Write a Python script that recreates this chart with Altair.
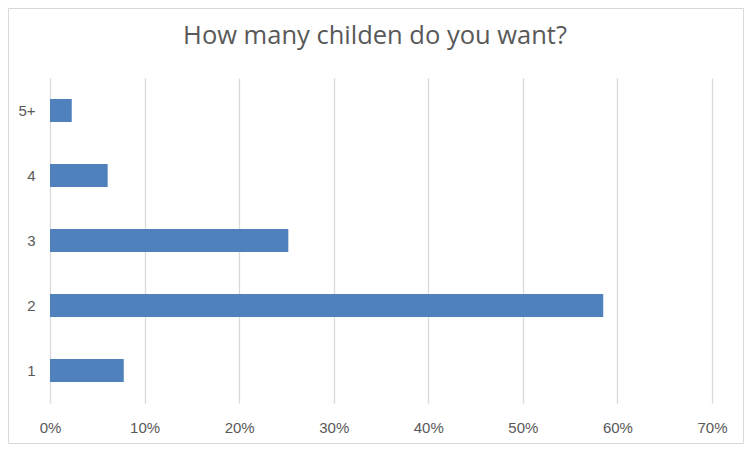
import altair as alt
import pandas as pd

categories = ["5+", "4", "3", "2", "1"]
shares = [0.023, 0.061, 0.252, 0.585, 0.078]
x_ticks = [0, 0.1, 0.2, 0.3, 0.4, 0.5, 0.6, 0.7]
title_text = "How many childen do you want?"

df = pd.DataFrame({"cat": categories, "share": shares})

W, H = 662, 325
PL, PT, PR, PB = 42, 70, 32, 41

bars = alt.Chart(df).mark_bar(color="#4f81bd").encode(
    x=alt.X("share:Q",
            scale=alt.Scale(domain=[0, 0.7], nice=False),
            axis=alt.Axis(values=x_ticks, format=".0%", title=None,
                          domain=False, ticks=False, grid=True,
                          gridColor="#d9d9d9", gridWidth=1.3,
                          labelFlush=False,
                          labelFont="Liberation Sans", labelFontSize=15,
                          labelColor="#595959", labelPadding=17)),
    y=alt.Y("cat:N", sort=categories,
            scale=alt.Scale(paddingInner=0.646, paddingOuter=0.323),
            axis=alt.Axis(title=None, domain=False, ticks=False, grid=False,
                          labelFont="Liberation Sans", labelFontSize=15,
                          labelColor="#595959", labelPadding=15)),
)

border = alt.Chart(pd.DataFrame({"a": [0]})).mark_rect(
    fill="transparent", stroke="#d9d9d9", strokeWidth=1, clip=False
).encode(
    x=alt.value(-PL + 0.5), x2=alt.value(W + PR - 0.5),
    y=alt.value(-PT + 0.5), y2=alt.value(H + PB - 0.5),
)

title = alt.Chart(pd.DataFrame({"t": [title_text]})).mark_text(
    font="Open Sans", fontSize=25.5, color="#595959", align="center",
    baseline="alphabetic", clip=False
).encode(
    text="t:N",
    x=alt.value(375 - 8 - PL),
    y=alt.value(44 - 8 - PT),
)

chart = alt.layer(border, bars, title).properties(
    width=W, height=H,
    background="white",
    autosize=alt.AutoSizeParams(type="none"),
    padding={"left": PL, "top": PT, "right": PR, "bottom": PB},
).configure_view(strokeWidth=0, stroke="transparent")

chart.save("out.html", embed_options={"renderer": "svg", "actions": False})
